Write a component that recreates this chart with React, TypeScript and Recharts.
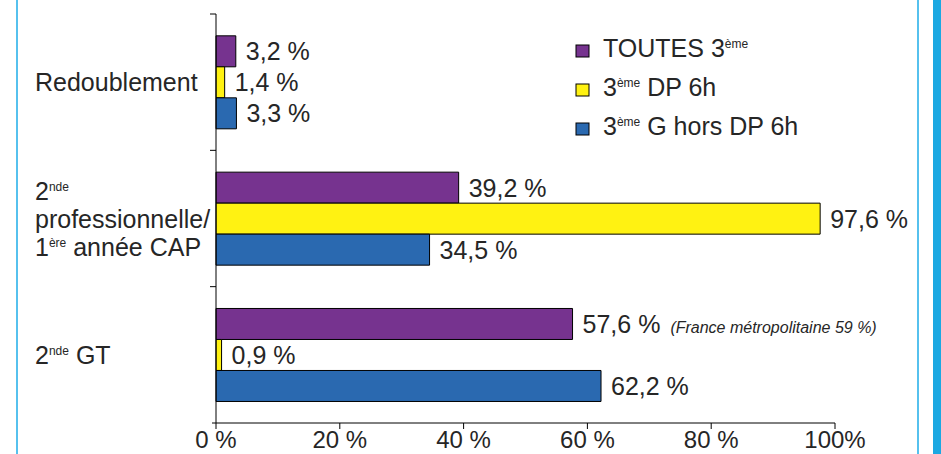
import React from "react";
import { BarChart, Bar, XAxis, YAxis, Legend, LabelList } from "recharts";

// "{...}" marks superscript text, "|" a line break
const categories = ["Redoublement", "2{nde}|professionnelle/|1{ère} année CAP", "2{nde} GT"];
const seriesNames = ["TOUTES 3{ème}", "3{ème} DP 6h", "3{ème} G hors DP 6h"];
const toutes = [3.2, 39.2, 57.6];
const dp6h = [1.4, 97.6, 0.9];
const horsDp = [3.3, 34.5, 62.2];
const toutesNotes = ["", "", "(France métropolitaine 59 %)"];
const xTicks = [0, 20, 40, 60, 80, 100];
const xTickLabels = ["0 %", "20 %", "40 %", "60 %", "80 %", "100%"];

const data = categories.map((name, i) => ({
  name,
  toutes: toutes[i],
  dp6h: dp6h[i],
  horsDp: horsDp[i],
  note: toutesNotes[i],
}));

const FONT = '"Liberation Sans", Arial, Helvetica, sans-serif';
const INK = "#262626";
const PURPLE = "#76338f";
const YELLOW = "#fff212";
const BLUE = "#2a69b0";

const W = 941;
const H = 454;
const MARGIN = { top: 14, right: 106, bottom: 0, left: 0 };
const X_AXIS_H = 31;
const BAND_HALF = (H - MARGIN.top - X_AXIS_H) / categories.length / 2;

function supParts(text: string, rise: number, supSize: number) {
  const parts = text.split(/(\{[^}]*\})/).filter((p) => p !== "");
  let raised = false;
  return parts.map((p, i) => {
    if (p.startsWith("{")) {
      raised = true;
      return (
        <tspan key={i} dy={-rise} fontSize={supSize}>
          {p.slice(1, -1)}
        </tspan>
      );
    }
    const dy = raised ? rise : 0;
    raised = false;
    return (
      <tspan key={i} dy={dy}>
        {p}
      </tspan>
    );
  });
}

function CategoryTick(props: any) {
  const { x, y, payload, index } = props;
  const lines = String(payload.value).split("|");
  const n = lines.length;
  return (
    <g>
      <line x1={x - 6} x2={x} y1={y - BAND_HALF} y2={y - BAND_HALF} stroke="#000" />
      {index === categories.length - 1 && (
        <line x1={x - 4} x2={x} y1={y + BAND_HALF} y2={y + BAND_HALF} stroke="#000" />
      )}
      {lines.map((line, i) => (
        <text
          key={i}
          x={35}
          y={y + 9 + (i - (n - 1) / 2) * 28}
          fontSize={25}
          fontFamily={FONT}
          fill={INK}
        >
          {supParts(line, 9, 12)}
        </text>
      ))}
    </g>
  );
}

function PercentTick(props: any) {
  const { x, y, payload } = props;
  const label = xTickLabels[xTicks.indexOf(payload.value)];
  return (
    <text x={x} y={y + 17} textAnchor="middle" fontSize={24} fontFamily={FONT} fill={INK}>
      {label}
    </text>
  );
}

const fmt = (v: number) => `${String(v).replace(".", ",")} %`;

function makeValueLabel(notes?: string[]) {
  return (props: any) => {
    const { x, y, width, height, value, index } = props;
    const note = notes ? notes[index] : "";
    return (
      <text
        x={x + width + 10}
        y={y + height / 2 + 9}
        fontSize={25}
        fontFamily={FONT}
        fill={INK}
      >
        {fmt(value)}
        {note && (
          <tspan dx={10} fontSize={16} fontStyle="italic">
            {note}
          </tspan>
        )}
      </text>
    );
  };
}

function LegendBox(props: any) {
  const items = [...(props.payload || [])].sort(
    (a: any, b: any) => seriesNames.indexOf(a.value) - seriesNames.indexOf(b.value)
  );
  return (
    <svg width={320} height={130} style={{ overflow: "visible" }}>
      {items.map((item: any, i: number) => {
        const base = 37 + i * 39;
        return (
          <g key={i}>
            <rect x={6} y={base - 12} width={13} height={12} fill={item.color} stroke="#000" />
            <text x={33} y={base} fontSize={25} fontFamily={FONT} fill={INK}>
              {supParts(String(item.value), 9, 12)}
            </text>
          </g>
        );
      })}
    </svg>
  );
}

export default function App() {
  return (
    <div
      style={{
        position: "absolute",
        left: 0,
        top: 0,
        width: W,
        height: H,
        background: "#fff",
        overflow: "hidden",
      }}
    >
      <div style={{ position: "absolute", left: 16, top: 0, width: 2, height: H, background: "#56c1ee" }} />
      <div style={{ position: "absolute", left: 917, top: 0, width: 2, height: H, background: "#56c1ee" }} />
      <div style={{ position: "absolute", left: 933, top: 0, width: 8, height: H, background: "#1ba8e2" }} />
      <BarChart
        width={W}
        height={H}
        data={data}
        layout="vertical"
        margin={MARGIN}
        barCategoryGap="16%"
        barGap={0}
      >
        <XAxis
          type="number"
          domain={[0, 100]}
          ticks={xTicks}
          interval={0}
          height={X_AXIS_H}
          axisLine={{ stroke: "#000" }}
          tickLine={{ stroke: "#000" }}
          tickSize={6}
          tickMargin={2}
          tick={<PercentTick />}
        />
        <YAxis
          type="category"
          dataKey="name"
          width={216}
          axisLine={{ stroke: "#000" }}
          tickLine={false}
          tickSize={0}
          tickMargin={0}
          interval={0}
          tick={<CategoryTick />}
        />
        <Legend
          layout="vertical"
          align="center"
          verticalAlign="middle"
          content={<LegendBox />}
          wrapperStyle={{ position: "absolute", left: 570, top: 20, width: 320, height: 130 }}
        />
        <Bar dataKey="toutes" name={seriesNames[0]} fill={PURPLE} stroke="#000" isAnimationActive={false}>
          <LabelList dataKey="toutes" content={makeValueLabel(toutesNotes)} />
        </Bar>
        <Bar dataKey="dp6h" name={seriesNames[1]} fill={YELLOW} stroke="#000" isAnimationActive={false}>
          <LabelList dataKey="dp6h" content={makeValueLabel()} />
        </Bar>
        <Bar dataKey="horsDp" name={seriesNames[2]} fill={BLUE} stroke="#000" isAnimationActive={false}>
          <LabelList dataKey="horsDp" content={makeValueLabel()} />
        </Bar>
      </BarChart>
    </div>
  );
}
